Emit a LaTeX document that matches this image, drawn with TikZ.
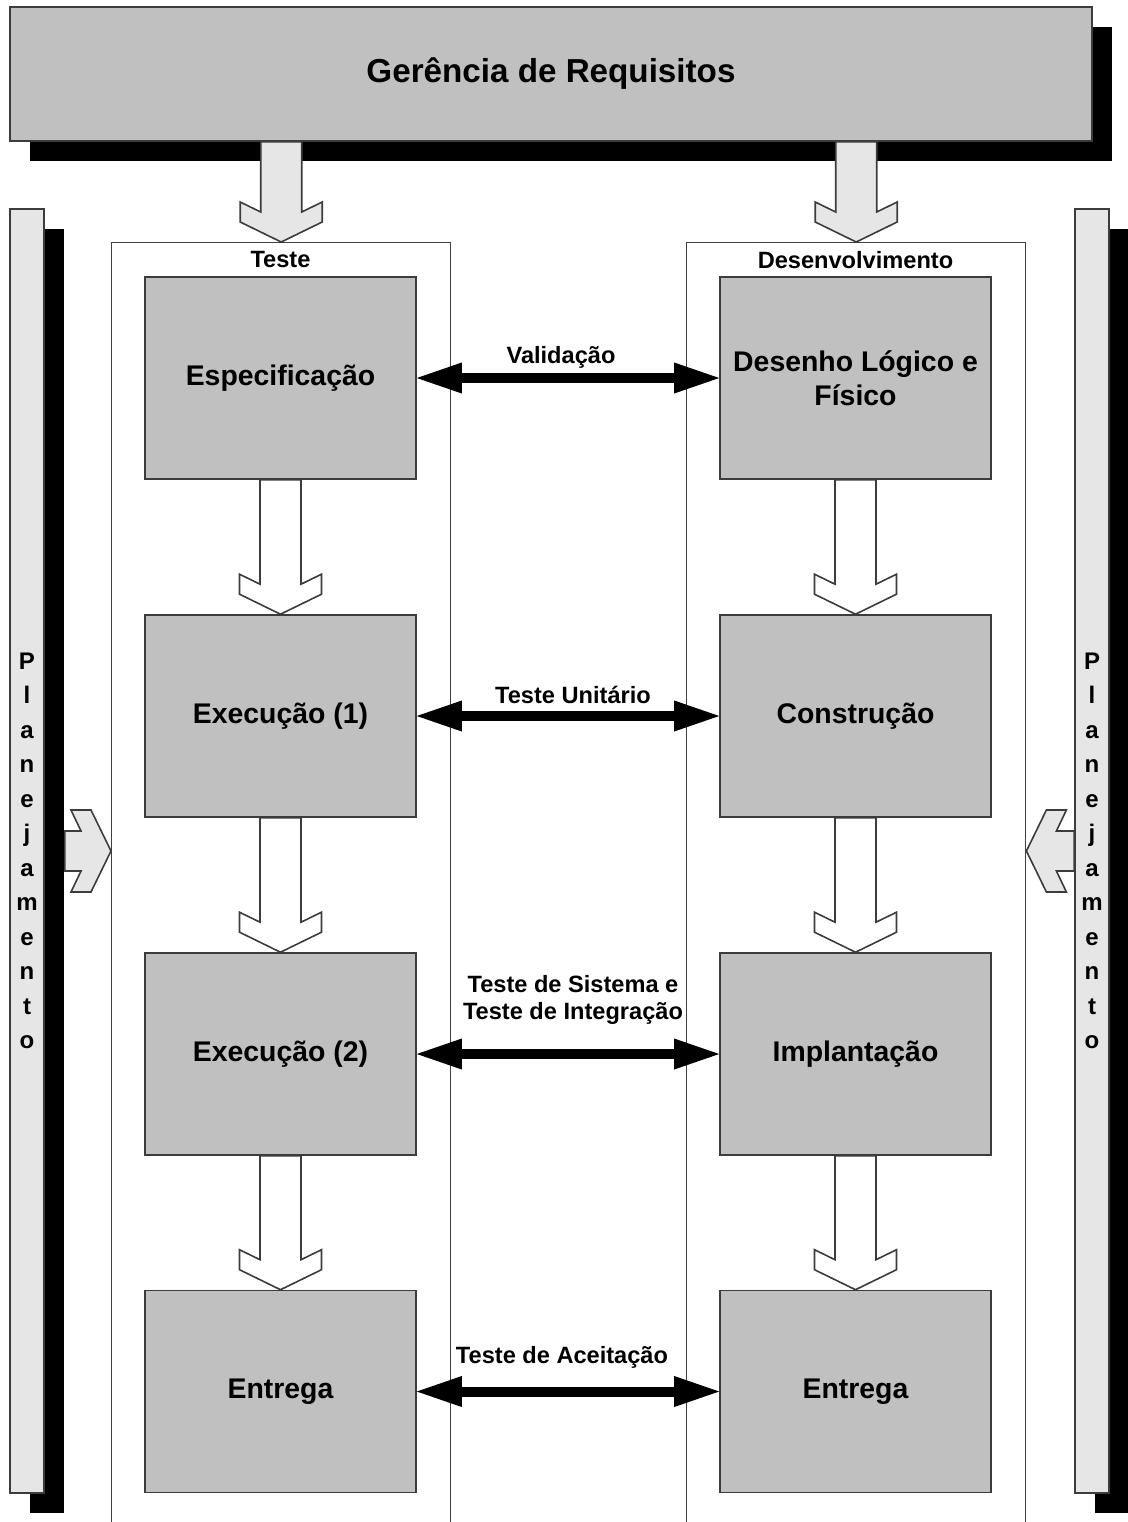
\documentclass[tikz,border=0pt]{standalone}
\usepackage{fontspec}
\setmainfont{Liberation Sans}
\usetikzlibrary{arrows.meta,calc,shadows}
\definecolor{boxgray}{HTML}{C0C0C0}
\definecolor{lightfill}{HTML}{E6E6E6}
\definecolor{edgecol}{HTML}{3C3C3C}
\definecolor{framecol}{HTML}{404040}
\definecolor{txt}{HTML}{000000}
\newcommand\hollowdown[3]{%
  \draw[arrowshape,fill=#1] let \p1=(#2), \p2=(#3) in
  (\x2-10.25pt,\y1) -- (\x2-10.25pt,\y2+15pt) -- (\x2-20.5pt,\y2+20pt) -- (\x2-20.5pt,\y2+10pt)
  -- (\x2,\y2) -- (\x2+20.5pt,\y2+10pt) -- (\x2+20.5pt,\y2+20pt) -- (\x2+10.25pt,\y2+15pt)
  -- (\x2+10.25pt,\y1) -- cycle;}
\begin{document}
\begin{tikzpicture}[x=0.5pt,y=-0.5pt,
  arrowshape/.style={draw=edgecol,line width=0.8pt,line join=miter},
  topbox/.style={draw=edgecol,line width=0.8pt,fill=boxgray,text=txt,
    font=\fontsize{16.6}{20}\selectfont\bfseries,
    drop shadow={shadow xshift=10pt,shadow yshift=-10pt,opacity=1,fill=black}},
  stagebox/.style={draw=edgecol,line width=0.8pt,fill=boxgray,text=txt,
    minimum width=135.5pt,minimum height=101pt,inner sep=0pt,align=center,
    font=\fontsize{14.2}{17}\selectfont\bfseries},
  frame/.style={draw=framecol,line width=0.7pt,anchor=north west,
    minimum width=169.5pt,minimum height=660pt,inner sep=0pt},
  hdr/.style={text=txt,font=\fontsize{11.8}{14}\selectfont\bfseries,inner sep=0pt},
  lbl/.style={text=txt,font=\fontsize{11.8}{13.5}\selectfont\bfseries,inner sep=0pt,align=center},
  sidebar/.style={draw=edgecol,line width=0.8pt,fill=lightfill,text=txt,
    minimum width=17pt,minimum height=642pt,inner sep=0pt,align=center,
    font=\fontsize{12}{17.25}\selectfont\bfseries,
    drop shadow={shadow xshift=10pt,shadow yshift=-10pt,opacity=1,fill=black}},
  dbl/.style={line width=5pt,draw=black,
    {Triangle[length=22.5pt,width=15.5pt,line width=0pt]}-{Triangle[length=22.5pt,width=15.5pt,line width=0pt]}}
]
\useasboundingbox (0,0) rectangle (1128,1522);
\clip (0,0) rectangle (1128,1522);

% containers
\node[frame] (tc) at (111,242) {};
\node[frame] (dc) at (686,242) {};
\node[hdr] (tl) at (280.5,259) {Teste};
\node[hdr] (dl) at (855.5,260) {Desenvolvimento};

% side bars and their arrows
\node[sidebar] (pl) at (27,851) {P\\l\\a\\n\\e\\j\\a\\m\\e\\n\\t\\o};
\node[sidebar] (pr) at (1092,851) {P\\l\\a\\n\\e\\j\\a\\m\\e\\n\\t\\o};
\draw[arrowshape,fill=lightfill] let \p1=($(pl.east)+(20,0)$), \p2=(tc.north west |- pl.center) in
  (\x1,\y2+10pt) -- (\x2-15pt,\y2+10pt) -- (\x2-20pt,\y2+20.5pt) -- (\x2-10pt,\y2+20.5pt)
  -- (\x2,\y2) -- (\x2-10pt,\y2-20.5pt) -- (\x2-20pt,\y2-20.5pt) -- (\x2-15pt,\y2-10pt)
  -- (\x1,\y2-10pt) -- cycle;
\draw[arrowshape,fill=lightfill] let \p1=(pr.west), \p2=(dc.north east |- pr.center) in
  (\x1,\y2+10pt) -- (\x2+15pt,\y2+10pt) -- (\x2+20pt,\y2+20.5pt) -- (\x2+10pt,\y2+20.5pt)
  -- (\x2,\y2) -- (\x2+10pt,\y2-20.5pt) -- (\x2+20pt,\y2-20.5pt) -- (\x2+15pt,\y2-10pt)
  -- (\x1,\y2-10pt) -- cycle;

% top box
\node[topbox,minimum width=541pt,minimum height=67pt,inner sep=0pt] (ger) at (551,74) {Gerência de Requisitos};
\coordinate (gl) at ($(ger.south west)+(271,0)$);
\coordinate (gr) at ($(ger.south west)+(846,0)$);
\hollowdown{lightfill}{gl}{tc.north}
\hollowdown{lightfill}{gr}{dc.north}

% stage boxes
\node[stagebox] (e1) at (280.5,378) {Especificação};
\node[stagebox] (e2) at (280.5,716) {Execução (1)};
\node[stagebox] (e3) at (280.5,1054) {Execução (2)};
\node[stagebox] (e4) at (280.5,1391.5) {Entrega};
\node[stagebox] (d1) at (855.5,378) {Desenho Lógico e\\Físico};
\node[stagebox] (d2) at (855.5,716) {Construção};
\node[stagebox] (d3) at (855.5,1054) {Implantação};
\node[stagebox] (d4) at (855.5,1391.5) {Entrega};

\hollowdown{white}{e1.south}{e2.north}
\hollowdown{white}{e2.south}{e3.north}
\hollowdown{white}{e3.south}{e4.north}
\hollowdown{white}{d1.south}{d2.north}
\hollowdown{white}{d2.south}{d3.north}
\hollowdown{white}{d3.south}{d4.north}

% double arrows
\draw[dbl] (e1.east) -- (d1.west);
\draw[dbl] (e2.east) -- (d2.west);
\draw[dbl] (e3.east) -- (d3.west);
\draw[dbl] (e4.east) -- (d4.west);
\node[lbl] (l1) at (561,357) {Validação};
\node[lbl] (l2) at (573,695) {Teste Unitário};
\node[lbl] (l3) at (573,999.5) {Teste de Sistema e\\Teste de Integração};
\node[lbl] (l4) at (562,1357) {Teste de Aceitação};
\end{tikzpicture}
\end{document}
